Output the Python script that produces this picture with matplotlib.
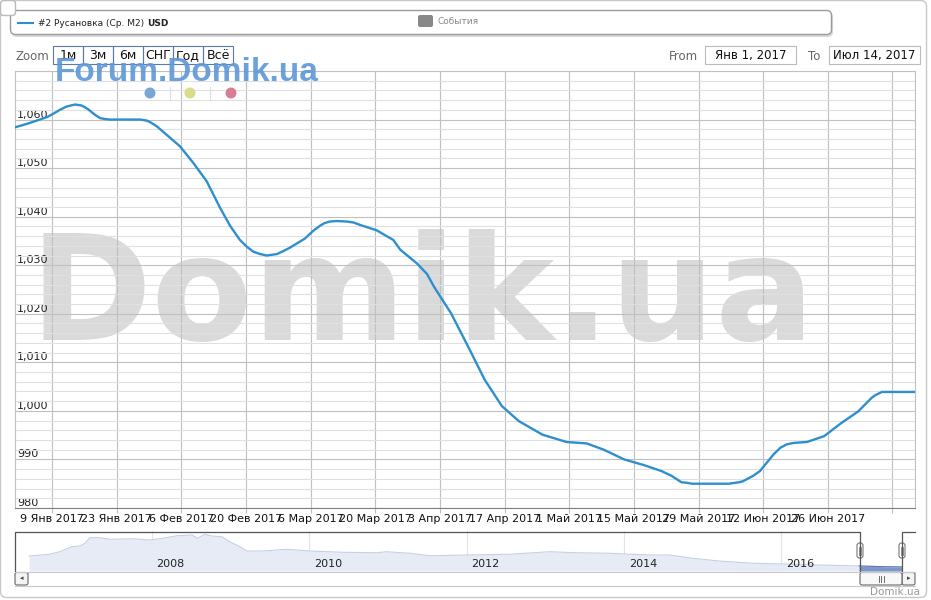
import numpy as np
import matplotlib
matplotlib.use('Agg')
import matplotlib.pyplot as plt
from matplotlib.patches import FancyBboxPatch, Circle
from matplotlib.ticker import MultipleLocator

# main series: days since 1 Jan 2017 and price, USD per m2
day_offsets = [0, 3.2, 6.9, 8.3, 9.7, 11.2, 13.0, 14.4, 15.2, 15.9, 17.3, 18.4, 19.5,
               20.6, 27.1, 28.5, 29.2, 30.7, 32.8, 35.7, 38.6, 41.5, 44.4, 46.6, 48.7,
               50.2, 51.6, 53.1, 54.5, 56.7, 58.1, 59.5, 62.8, 64.6, 66.0, 67.1, 68.2,
               69.7, 71.8, 73.3, 74.7, 78.3, 81.9, 83.4, 87.0, 89.2, 90.7, 94.4, 98.1,
               101.7, 105.4, 109.1, 114.2, 119.4, 123.8, 127.5, 131.9, 136.3, 140.0,
               142.2, 144.3, 145.4, 146.6, 154.6, 156.8, 157.6, 159.8, 161.3, 164.2,
               165.7, 167.1, 168.6, 171.5, 175.2, 178.9, 182.6, 185.5, 186.2, 187.7,
               189.2, 194.9]
prices = [1058.4, 1059.3, 1060.5, 1061.2, 1062.0, 1062.7, 1063.1, 1062.9, 1062.5,
          1062.05, 1061.0, 1060.3, 1060.1, 1060.0, 1060.0, 1059.8, 1059.5, 1058.6,
          1056.9, 1054.5, 1051.1, 1047.3, 1041.8, 1038.1, 1035.2, 1033.8, 1032.8,
          1032.3, 1032.0, 1032.3, 1032.9, 1033.6, 1035.5, 1037.1, 1038.1, 1038.7,
          1039.0, 1039.1, 1039.0, 1038.8, 1038.3, 1037.2, 1035.2, 1033.2, 1030.4,
          1028.2, 1025.6, 1020.1, 1013.3, 1006.4, 1001.0, 997.9, 995.1, 993.6, 993.3,
          992.0, 990.0, 988.8, 987.6, 986.6, 985.3, 985.2, 985.0, 985.0, 985.3, 985.5,
          986.6, 987.6, 991.0, 992.4, 993.1, 993.4, 993.6, 994.8, 997.5, 999.9,
          1002.7, 1003.2, 1003.9, 1003.9, 1003.9]

x_tick_dates = ['2017-01-09', '2017-01-23', '2017-02-06', '2017-02-20', '2017-03-06',
                '2017-03-20', '2017-04-03', '2017-04-17', '2017-05-01', '2017-05-15',
                '2017-05-29', '2017-06-12', '2017-06-26', '2017-07-10']
x_tick_labels = ['9 Янв 2017', '23 Янв 2017', '6 Фев 2017', '20 Фев 2017',
                 '6 Мар 2017', '20 Мар 2017', '3 Апр 2017', '17 Апр 2017',
                 '1 Май 2017', '15 Май 2017', '29 Май 2017', '12 Июн 2017',
                 '26 Июн 2017', '']
y_ticks = [980, 990, 1000, 1010, 1020, 1030, 1040, 1050, 1060]

# navigator: full history
nav_years = [2006.44, 2006.70, 2006.83, 2006.98, 2007.09, 2007.15, 2007.21, 2007.34,
             2007.47, 2007.76, 2007.97, 2008.14, 2008.32, 2008.51, 2008.58, 2008.67,
             2008.76, 2008.89, 2008.99, 2009.12, 2009.21, 2009.41, 2009.71, 2010.01,
             2010.43, 2010.86, 2010.98, 2011.28, 2011.53, 2012.00, 2012.55, 2013.05,
             2013.40, 2013.82, 2014.32, 2014.58, 2014.87, 2015.21, 2015.63, 2016.06,
             2016.48, 2016.99, 2017.33, 2017.53]
nav_values = [1605, 1700, 1840, 2115, 2170, 2300, 2610, 2610, 2525, 2555, 2485, 2580,
              2720, 2760, 2580, 2800, 2705, 2665, 2390, 2115, 1880, 1880, 1975, 1880,
              1810, 1785, 1840, 1755, 1620, 1660, 1700, 1840, 1785, 1755, 1660, 1660,
              1480, 1330, 1205, 1165, 1110, 1055, 1015, 1004]
nav_labels = ['2008', '2010', '2012', '2014', '2016']

zoom_buttons = ['1м', '3м', '6м', 'СНГ', 'Год', 'Всё']

LINE = '#2e8fcf'
W, H = 931, 600

fig = plt.figure(figsize=(W / 100, H / 100), dpi=100)
fig.patch.set_facecolor('white')


def pixel_axes(z):
    a = fig.add_axes([0, 0, 1, 1], zorder=z)
    a.set_xlim(0, W)
    a.set_ylim(H, 0)
    a.axis('off')
    return a


def rbox(a, x, y, w, h, r=3, **kw):
    p = FancyBboxPatch((x, y), w, h, boxstyle=f'round,pad=0,rounding_size={r}', **kw)
    a.add_patch(p)
    return p


# background layer: frame, legend, big watermark
bg = pixel_axes(0)
rbox(bg, 0.5, 0.5, 926, 597, r=6, fc='white', ec='#c8c8c8', lw=1)
rbox(bg, 12, 12, 821, 25, r=5, fc='#d8d8d8', ec='none')
rbox(bg, 10.5, 10.5, 821, 24, r=5, fc='white', ec='#9a9a9a', lw=1)
rbox(bg, 0.5, 0.5, 15, 15, r=3, fc='white', ec='#bbbbbb', lw=1)
bg.plot([18, 33], [23, 23], color=LINE, lw=1.5)
bg.text(38, 23, '#2 Русановка (Ср. М2)', fontsize=6.5, va='center', ha='left', color='#222')
bg.text(147, 23, 'USD', fontsize=6.5, fontweight='bold', va='center', ha='left', color='#222')
rbox(bg, 418, 15, 15, 12, r=2, fc='#888888', ec='none')
bg.text(438, 22, 'События', fontsize=6.5, va='center', ha='left', color='#888')
bg.text(422, 340, 'Domik.ua', fontsize=106, fontweight='bold', color='#dadada',
        ha='center', va='baseline')
bg.text(920, 592, 'Domik.ua', fontsize=7.5, color='#999', ha='right', va='center')

# main chart
ax = fig.add_axes([15 / W, (H - 508) / H, 900 / W, 437 / H], zorder=1)
ax.patch.set_alpha(0)
dates = np.datetime64('2017-01-01T00') + (np.array(day_offsets) * 24).round().astype(int).astype('timedelta64[h]')
ax.plot(dates, prices, color=LINE, lw=1.7, solid_joinstyle='round', solid_capstyle='round', zorder=3)
ax.set_xlim(np.datetime64('2017-01-01T00'), np.datetime64('2017-07-14T21'))
ax.set_ylim(980, 1070)
ax.set_xticks(np.array(x_tick_dates, dtype='datetime64[h]'))
ax.set_xticklabels(x_tick_labels)
ax.set_yticks(y_ticks)
ax.set_yticklabels([f'{v:,}' for v in y_ticks])
ax.yaxis.set_minor_locator(MultipleLocator(2))
ax.grid(which='major', color='#c0c0c0', lw=0.8)
ax.grid(which='minor', axis='y', color='#e0e0e0', lw=0.8)
ax.set_axisbelow(True)
ax.tick_params(axis='x', length=3.6, width=0.8, color='#c0c0c0', pad=1, labelsize=8, labelcolor='#111')
ax.tick_params(axis='y', which='both', length=0, pad=-1.5, labelsize=8, labelcolor='#222')
for lab in ax.get_yticklabels():
    lab.set_ha('left')
    lab.set_va('bottom')
for side in ['left', 'top', 'right']:
    ax.spines[side].set_color('#c0c0c0')
    ax.spines[side].set_linewidth(0.8)
ax.spines['bottom'].set_color('#808080')
ax.spines['bottom'].set_linewidth(0.8)

# navigator
nav = fig.add_axes([15 / W, (H - 571) / H, 900 / W, 40 / H], zorder=1)
nav.patch.set_alpha(0)
nx = np.array(nav_years)
ny = np.array(nav_values)
nav.fill_between(nx, ny, 780, color='#e7ebf5', lw=0)
nav.plot(nx, ny, color='#c5d0e6', lw=0.8)
nav.fill_between(nx, ny, 780, where=nx >= 2016.99, color='#7d97c8', lw=0)
nav.plot(nx[nx >= 2016.99], ny[nx >= 2016.99], color='#5c78b0', lw=0.8)
nav.set_xlim(2006.26, 2017.70)
nav.set_ylim(780, 2980)
for lab in nav_labels:
    yr = int(lab)
    nav.axvline(yr, color='#e4e4e4', lw=0.8, zorder=0)
    nav.annotate(lab, xy=(yr, 0), xycoords=('data', 'axes fraction'), xytext=(3.4, 2.9),
                 textcoords='offset points', ha='left', va='baseline', fontsize=8, color='#222')
nav.set_xticks([])
nav.set_yticks([])
for s in nav.spines.values():
    s.set_visible(False)

# overlay: buttons, inputs, scrollbar, small watermark
ov = pixel_axes(3)
ov.text(16, 56, 'Zoom', fontsize=8.5, color='#666', ha='left', va='center')
for i, b in enumerate(zoom_buttons):
    x0 = 53 + 30 * i
    ov.add_patch(plt.Rectangle((x0, 46), 30, 18, fc='none', ec='#5a7aa8', lw=0.8))
    ov.text(x0 + 15, 55.5, b, fontsize=9, color='#111', ha='center', va='center')
ov.text(698, 56, 'From', fontsize=8.5, color='#666', ha='right', va='center')
ov.add_patch(plt.Rectangle((705, 46), 91, 18, fc='white', ec='#bbbbbb', lw=0.8))
ov.text(750.5, 55.5, 'Янв 1, 2017', fontsize=8.5, color='#111', ha='center', va='center')
ov.text(820, 56, 'To', fontsize=8.5, color='#666', ha='right', va='center')
ov.add_patch(plt.Rectangle((829, 46), 91, 18, fc='white', ec='#bbbbbb', lw=0.8))
ov.text(874.5, 55.5, 'Июл 14, 2017', fontsize=8.5, color='#111', ha='center', va='center')

ov.text(55, 81, 'Forum.Domik.ua', fontsize=24, fontweight='bold', family='Liberation Sans',
        color='#6199d8', alpha=0.92, ha='left', va='baseline')
for cx, c in [(150, '#78a6d8'), (190, '#d8dc8c'), (231, '#d97d97')]:
    ov.add_patch(Circle((cx, 93), 5.5, fc=c, ec='none'))
for sx in [170, 210]:
    ov.plot([sx, sx], [87, 100], color='#dddddd', lw=0.8)

# navigator outline and scrollbar
ov.plot([15, 15, 860, 860], [571, 531.5, 531.5, 571], color='#555', lw=0.9)
ov.plot([902, 902, 915], [571, 531.5, 531.5], color='#555', lw=0.9)
ov.plot([15, 915], [571.5, 571.5], color='#c8c8c8', lw=0.8)
ov.plot([15, 915], [585.5, 585.5], color='#c8c8c8', lw=0.8)
rbox(ov, 15, 572.5, 13, 12.5, r=2, fc='#f4f4f4', ec='#666', lw=0.8)
ov.text(21.5, 578.5, '◂', fontsize=5, color='#444', ha='center', va='center')
rbox(ov, 902, 572.5, 13, 12.5, r=2, fc='#f4f4f4', ec='#666', lw=0.8)
ov.text(908.5, 578.5, '▸', fontsize=5, color='#444', ha='center', va='center')
rbox(ov, 860, 572.5, 42, 12.5, r=2, fc='#f8f8f8', ec='#666', lw=0.8)
for gx in [878.5, 881, 883.5]:
    ov.plot([gx, gx], [575.5, 581.5], color='#555', lw=0.6)
for hx in [860, 902]:
    rbox(ov, hx - 3, 543, 6, 15, r=2.5, fc='white', ec='#777', lw=0.8)
    ov.plot([hx - 1, hx - 1], [546.5, 554.5], color='#666', lw=0.5)
    ov.plot([hx + 1, hx + 1], [546.5, 554.5], color='#666', lw=0.5)

fig.savefig('out.png', dpi=100, facecolor='white')
